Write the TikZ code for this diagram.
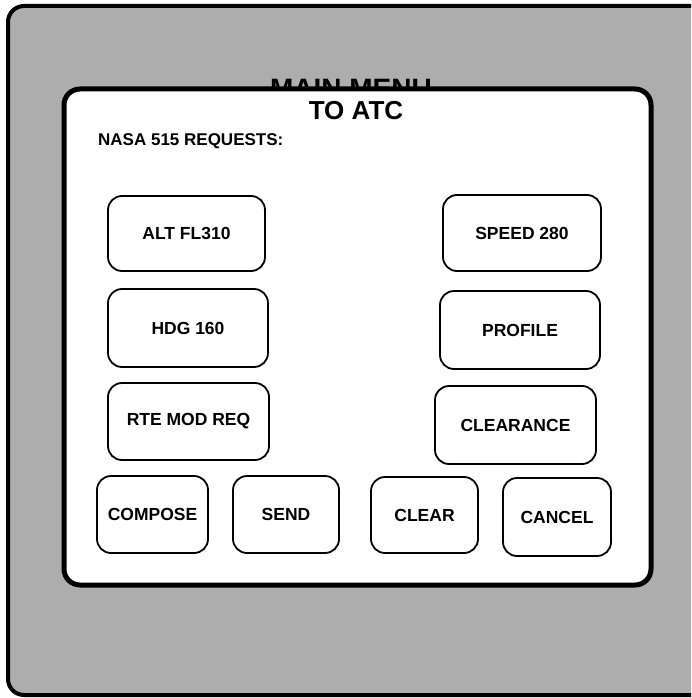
\documentclass[tikz,border=0pt]{standalone}
\usepackage{fontspec}
\setmainfont{Liberation Sans}
\begin{document}
\begin{tikzpicture}[x=1pt,y=-1pt,
  screen/.style={draw=black,line width=4pt,rounded corners=16pt,fill=black!32},
  window/.style={draw=black,line width=5pt,rounded corners=16pt,fill=white},
  btn/.style={draw=black,line width=1.8pt,rounded corners=14pt,fill=white,
    align=center,inner sep=0pt,font=\fontsize{17.5}{19}\selectfont\bfseries}]
  \useasboundingbox (0,0) rectangle (691,698);
  \clip (0,0) rectangle (691,698);
  % display background
  \draw[screen] (8,6) rectangle (720,695);
  % partly hidden title of the screen behind the window
  \node[font=\fontsize{28}{30}\selectfont\bfseries,anchor=base] (mainmenu) at (351,99) {MAIN MENU};
  % message window
  \draw[window] (64,89) rectangle (651,585);
  \node[font=\fontsize{26}{28}\selectfont\bfseries,anchor=base] (title) at (356,120) {TO ATC};
  \node[font=\fontsize{17}{19}\selectfont\bfseries,anchor=base west,inner sep=0pt] (req) at (98,146) {NASA 515 REQUESTS:};
  % request buttons
  \node[btn,minimum width=157pt,minimum height=75pt] (alt) at (186.5,233.5) {ALT FL310};
  \node[btn,minimum width=158pt,minimum height=76pt] (speed) at (522,233) {SPEED 280};
  \node[btn,minimum width=160pt,minimum height=78pt] (hdg) at (188,328) {HDG 160};
  \node[btn,minimum width=160pt,minimum height=78pt] (profile) at (520,330) {PROFILE};
  \node[btn,minimum width=161pt,minimum height=77pt] (rte) at (188.5,421.5) {RTE MOD REQ};
  \node[btn,minimum width=161pt,minimum height=78pt] (clearance) at (515.5,425) {CLEARANCE};
  % command buttons
  \node[btn,minimum width=111pt,minimum height=77pt] (compose) at (152.5,514.5) {COMPOSE};
  \node[btn,minimum width=106pt,minimum height=77pt] (send) at (286,514.5) {SEND};
  \node[btn,minimum width=107pt,minimum height=76pt] (clear) at (424.5,515) {CLEAR};
  \node[btn,minimum width=108pt,minimum height=78pt] (cancel) at (557,517) {CANCEL};
\end{tikzpicture}
\end{document}
